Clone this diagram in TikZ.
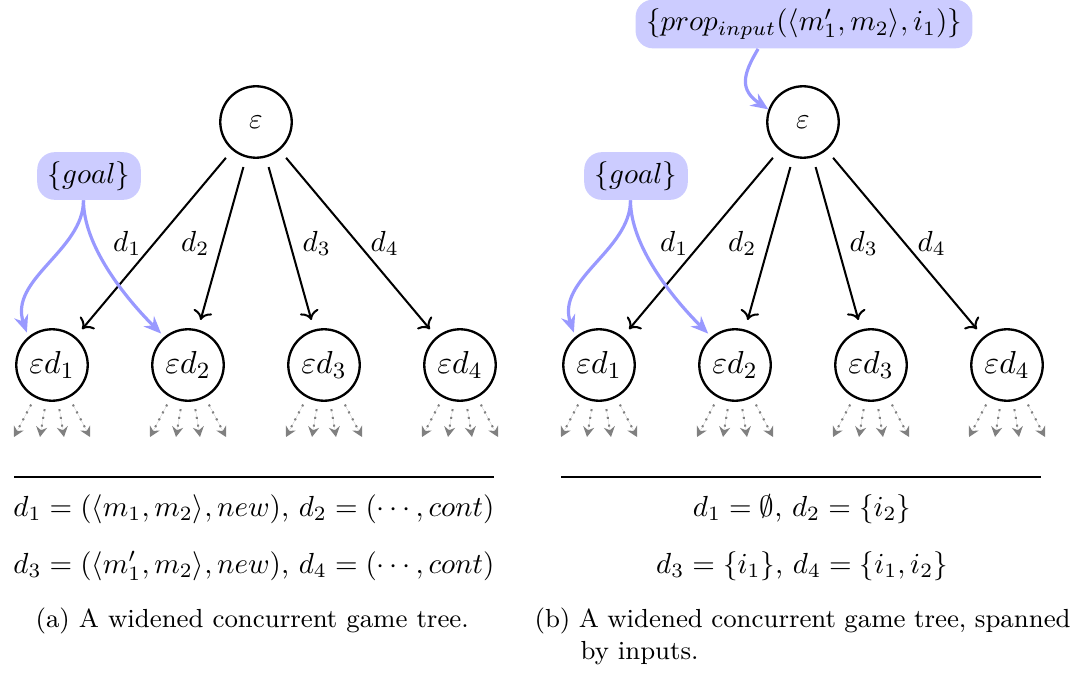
\documentclass[tikz,border=0pt]{standalone}
\usetikzlibrary{arrows.meta}
\definecolor{notefill}{RGB}{204,204,255}
\definecolor{noteline}{RGB}{153,153,255}
\tikzset{
  state/.style={circle, draw, line width=0.8pt, minimum size=24.6pt, inner sep=0pt,
    font=\fontsize{11}{13}\selectfont},
  rootstate/.style={state, font=\normalsize},
  move/.style={->, line width=0.7pt, shorten >=3.4pt, shorten <=3.4pt},
  movelbl/.style={inner sep=4pt},
  note/.style={fill=notefill, rounded corners=6pt, inner xsep=3.6pt, inner ysep=3.2pt},
  hint/.style={-{Stealth[length=6pt,width=5pt]}, draw=noteline, line width=1.1pt},
  more/.style={-{Stealth[length=3.5pt,width=3.8pt]}, draw=gray, fill=gray, dotted,
    line width=0.7pt, shorten <=2.7pt},
  sep/.style={line width=0.8pt},
  capt/.style={font=\small, inner sep=0pt, anchor=base west},
}
\begin{document}
\begin{tikzpicture}[x=0.3442pt, y=-0.3442pt]
\useasboundingbox (0,0) rectangle (1078,675);

% two game trees, (a) on the left and (b) shifted to the right
\foreach \s/\dx in {a/0, b/547} {
  \node[rootstate] (\s-r) at ({256+\dx},122) {$\varepsilon$};
  \foreach \i/\x in {1/52, 2/188, 3/324, 4/460} {
    \node[state] (\s-c\i) at ({\x+\dx},365) {$\varepsilon d_{\i}$};
    \foreach \j/\e in {1/-38, 2/-12, 3/12, 4/38}
      \coordinate (\s-c\i-\j) at ({\x+\dx+\e},437);
    \foreach \j in {1,...,4}
      \draw[more] (\s-c\i) -- (\s-c\i-\j);
  }
  \draw[move] (\s-r) -- node[movelbl,left]  {$d_1$} (\s-c1);
  \draw[move] (\s-r) -- node[movelbl,left]  {$d_2$} (\s-c2);
  \draw[move] (\s-r) -- node[movelbl,right] {$d_3$} (\s-c3);
  \draw[move] (\s-r) -- node[movelbl,right] {$d_4$} (\s-c4);

  \node[note] (\s-g) at ({89+\dx},176) {$\{goal\}$};
  \draw[hint, shorten >=1.5pt] ([xshift=-1.9pt]\s-g.south)
    to[out=-90, in=109, out distance=17.2pt, in distance=20.9pt] (\s-c1.130);
  \draw[hint, shorten >=1.5pt] ([xshift=-1.9pt]\s-g.south)
    to[out=-90, in=135, out distance=15.5pt, in distance=19.5pt] (\s-c2.130);

  \draw[sep] ({14+\dx},477) -- ({494+\dx},477);
}

\node[note] (b-p) at (804,24) {$\{prop_{input}(\langle m'_1, m_2\rangle, i_1)\}$};
\draw[hint] ([xshift=-15.8pt]b-p.south)
  to[out=-121, in=146, out distance=10.3pt, in distance=12.1pt] (b-r.160);

% move descriptions
\node[anchor=base] (a-t1) at (254,516) {$d_1 = (\langle m_1, m_2\rangle, new)$, $d_2 = (\cdots, cont)$};
\node[anchor=base] (a-t2) at (254,573) {$d_3 = (\langle m'_1, m_2\rangle, new)$, $d_4 = (\cdots, cont)$};
\node[anchor=base] (b-t1) at (802,516) {$d_1 = \emptyset$, $d_2 = \{i_2\}$};
\node[anchor=base] (b-t2) at (802,573) {$d_3 = \{i_1\}$, $d_4 = \{i_1, i_2\}$};

% captions
\node[capt] (a-cap) at (35,627) {(a) A widened concurrent game tree.};
\node[capt] (b-cap1) at (534,627) {\hbox to 184.5pt{(b) A widened concurrent game tree, spanned}};
\node[capt] (b-cap2) at (580,659) {by inputs.};
\end{tikzpicture}
\end{document}
